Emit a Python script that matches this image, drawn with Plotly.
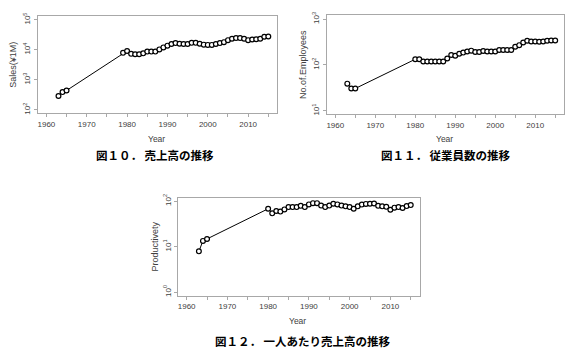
import plotly.graph_objects as go

W, H = 574, 354

years = [1963, 1964, 1965] + list(range(1980, 2016))
sales_years = [1963, 1964, 1965] + list(range(1979, 2016))
sales = [290, 390, 440,
         7900, 9100, 7300, 7100, 7100, 7600, 8700, 8700, 8700, 10300,
         12000, 13700, 15500, 16700, 15800, 15500, 15500, 17000, 17000, 15800,
         14800, 14500, 14500, 15500, 16700, 17900, 20900, 23200, 24500, 24500,
         23200, 20900, 22000, 22500, 23200, 27000, 27800]
employees = [39, 30.6, 30.6,
             133, 133, 119, 119, 119, 119, 119, 119, 138, 165,
             159, 175, 186, 196, 205, 191, 191, 201, 196, 196,
             196, 211, 211, 211, 211, 250, 270, 309, 336, 325,
             325, 320, 325, 336, 341, 341]
productivity = [7.9, 13.4, 14.8,
                68, 54, 60.7, 59, 66, 74, 74, 74, 79, 74,
                85, 90.5, 90.5, 80, 74, 80, 88, 85, 80, 77,
                74, 68, 77, 84, 87, 88, 89, 79, 77, 75,
                65, 72, 74, 71, 78, 82]

x_tickvals = list(range(1960, 2016, 5))
x_ticktext = [str(v) if v % 10 == 0 else "" for v in x_tickvals]

panels = [
    dict(x=sales_years, y=sales, exps=[2, 3, 4, 5], yr=[1.88, 5.12],
         dom_x=(37.5, 277.2), dom_y=(12.3, 111.0),
         ytitle="Sales(¥1M)", ytitle_pos=(13, 61.7), year_pos=(157, 137),
         caption="図１０． 売上高の推移", cap_pos=(155, 153)),
    dict(x=years, y=employees, exps=[1, 2, 3], yr=[0.92, 3.08],
         dom_x=(326.5, 564.0), dom_y=(11.6, 112.0),
         ytitle="No.of.Employees", ytitle_pos=(303, 62), year_pos=(444, 137),
         caption="図１１． 従業員数の推移", cap_pos=(446, 153)),
    dict(x=years, y=productivity, exps=[0, 1, 2], yr=[-0.08, 2.08],
         dom_x=(177.7, 419.7), dom_y=(196.3, 296.0),
         ytitle="Productivety", ytitle_pos=(155, 246), year_pos=(297, 322),
         caption="図１２． 一人あたり売上高の推移", cap_pos=(303, 342)),
]

fig = go.Figure()
layout = dict(width=W, height=H, margin=dict(l=0, r=0, t=0, b=0),
              paper_bgcolor="white", plot_bgcolor="white", showlegend=False,
              annotations=[])

AX = "#a8a8a8"
TXT = "#404040"
tick_font = dict(family="Liberation Sans, Arial", size=8, color=TXT)

for i, p in enumerate(panels):
    n = "" if i == 0 else str(i + 1)
    fig.add_trace(go.Scatter(
        x=p["x"], y=p["y"], mode="lines+markers",
        line=dict(color="black", width=1),
        marker=dict(symbol="circle", size=4.8, color="white",
                    line=dict(color="black", width=1.2)),
        xaxis="x" + n, yaxis="y" + n, hoverinfo="skip"))
    layout["xaxis" + n] = dict(
        domain=[p["dom_x"][0] / W, p["dom_x"][1] / W],
        range=[1957.8, 2017.2], anchor="y" + n,
        tickvals=x_tickvals, ticktext=x_ticktext,
        ticks="outside", ticklen=3, tickcolor=AX, tickwidth=1,
        showline=True, linecolor=AX, linewidth=1, mirror=True,
        showgrid=False, zeroline=False, tickfont=tick_font)
    layout["yaxis" + n] = dict(
        domain=[1 - p["dom_y"][1] / H, 1 - p["dom_y"][0] / H],
        type="log", range=p["yr"], anchor="x" + n,
        tickvals=[10 ** e for e in p["exps"]],
        ticktext=["10<sup>%d</sup>" % e for e in p["exps"]],
        tickangle=-90,
        ticks="outside", ticklen=3, tickcolor=AX, tickwidth=1,
        showline=True, linecolor=AX, linewidth=1, mirror=True,
        showgrid=False, zeroline=False, tickfont=tick_font)
    layout["annotations"] += [
        dict(text=p["ytitle"], x=p["ytitle_pos"][0] / W, y=1 - p["ytitle_pos"][1] / H,
             xref="paper", yref="paper", showarrow=False, textangle=-90,
             xanchor="center", yanchor="middle",
             font=dict(family="Liberation Sans, Arial", size=9, color=TXT)),
        dict(text="Year", x=p["year_pos"][0] / W, y=1 - p["year_pos"][1] / H,
             xref="paper", yref="paper", showarrow=False,
             xanchor="center", yanchor="middle",
             font=dict(family="Liberation Sans, Arial", size=8.5, color=TXT)),
        dict(text="<b>" + p["caption"] + "</b>", x=p["cap_pos"][0] / W,
             y=1 - p["cap_pos"][1] / H, xref="paper", yref="paper",
             showarrow=False, xanchor="center", yanchor="middle",
             font=dict(family="Noto Sans CJK JP", size=11.5, color="black")),
    ]

fig.update_layout(**layout)
fig.write_html("out.html")
